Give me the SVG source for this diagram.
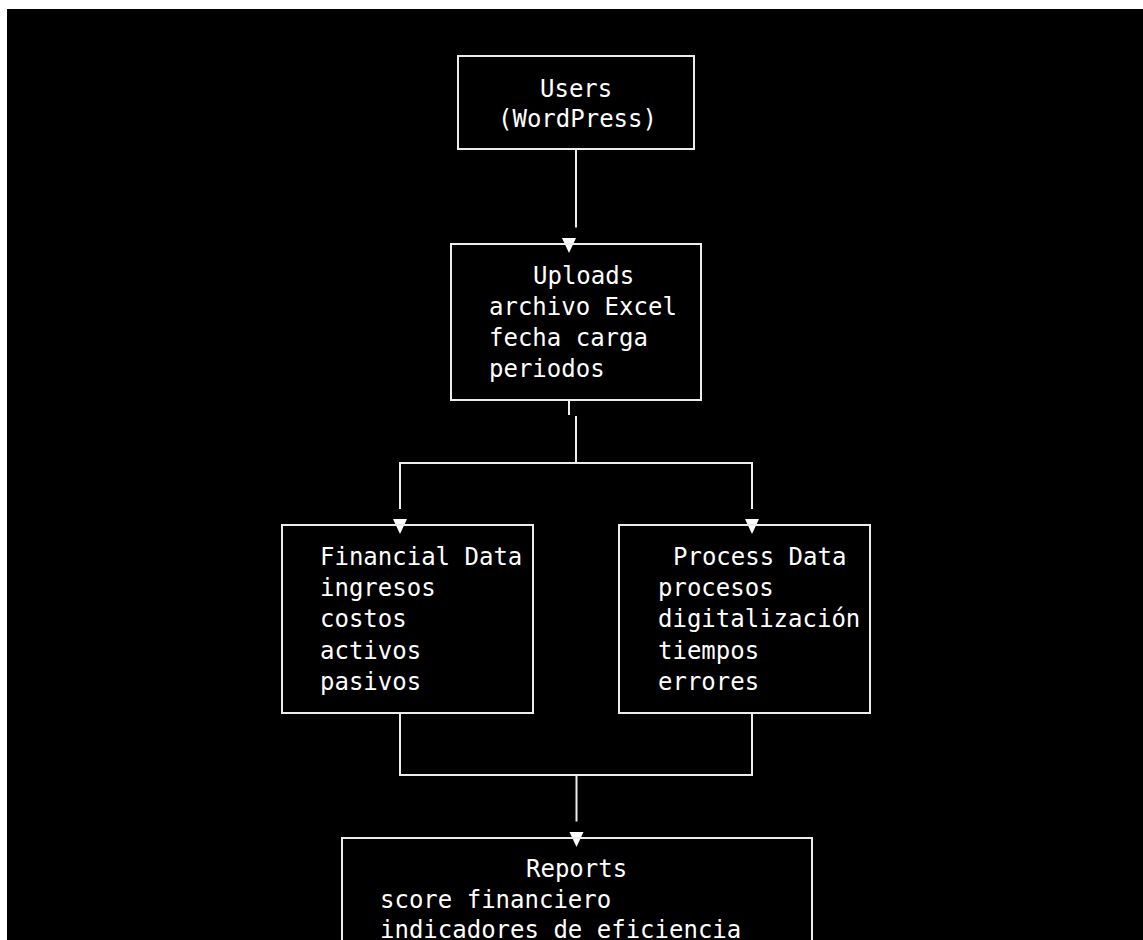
<svg xmlns="http://www.w3.org/2000/svg" width="1143" height="940" viewBox="0 0 1143 940">
  <style>
    .box { fill: none; stroke: #ececec; stroke-width: 2; }
    .wire { fill: none; stroke: #ececec; stroke-width: 2; }
    .head { fill: #ffffff; }
    text { font-family: "DejaVu Sans Mono", "Liberation Mono", monospace; font-size: 24px; fill: #ffffff; }
  </style>
  <defs>
    <path id="tri" d="M-7,-6 L7,-6 L0,9 Z"/>
  </defs>
  <rect x="0" y="0" width="1143" height="940" fill="#ffffff"/>
  <rect x="7" y="9" width="1136" height="931" fill="#000000"/>

  <g id="connectors">
    <path class="wire" d="M576,149 V227.5"/>
    <path class="wire" d="M569,400 V415"/>
    <path class="wire" d="M576,416 V463"/>
    <path class="wire" d="M400,509 V463 H752 V509"/>
    <path class="wire" d="M400,713 V775 H752 V713"/>
    <path class="wire" d="M576.5,775 V821.5"/>
    <use href="#tri" class="head" x="569" y="244"/>
    <use href="#tri" class="head" x="400" y="525"/>
    <use href="#tri" class="head" x="752" y="525"/>
    <use href="#tri" class="head" x="576.5" y="838"/>
  </g>

  <g id="users">
    <rect class="box" x="458" y="56" width="236" height="93"/>
    <text x="540" y="97">Users</text>
    <text x="498" y="127">(WordPress)</text>
  </g>

  <g id="uploads">
    <rect class="box" x="451" y="244" width="250" height="156"/>
    <text x="533" y="284">Uploads</text>
    <text x="489" y="315">archivo Excel</text>
    <text x="489" y="346">fecha carga</text>
    <text x="489" y="377">periodos</text>
  </g>

  <g id="financial-data">
    <rect class="box" x="282" y="525" width="251" height="188"/>
    <text x="320" y="565">Financial Data</text>
    <text x="320" y="596">ingresos</text>
    <text x="320" y="627">costos</text>
    <text x="320" y="659">activos</text>
    <text x="320" y="690">pasivos</text>
  </g>

  <g id="process-data">
    <rect class="box" x="619" y="525" width="251" height="188"/>
    <text x="673" y="565">Process Data</text>
    <text x="658" y="596">procesos</text>
    <text x="658" y="627">digitalización</text>
    <text x="658" y="659">tiempos</text>
    <text x="658" y="690">errores</text>
  </g>

  <g id="reports">
    <path class="box" d="M342,950 V838 H812 V950"/>
    <text x="526" y="877">Reports</text>
    <text x="380" y="908">score financiero</text>
    <text x="380" y="938">indicadores de eficiencia</text>
  </g>
</svg>
